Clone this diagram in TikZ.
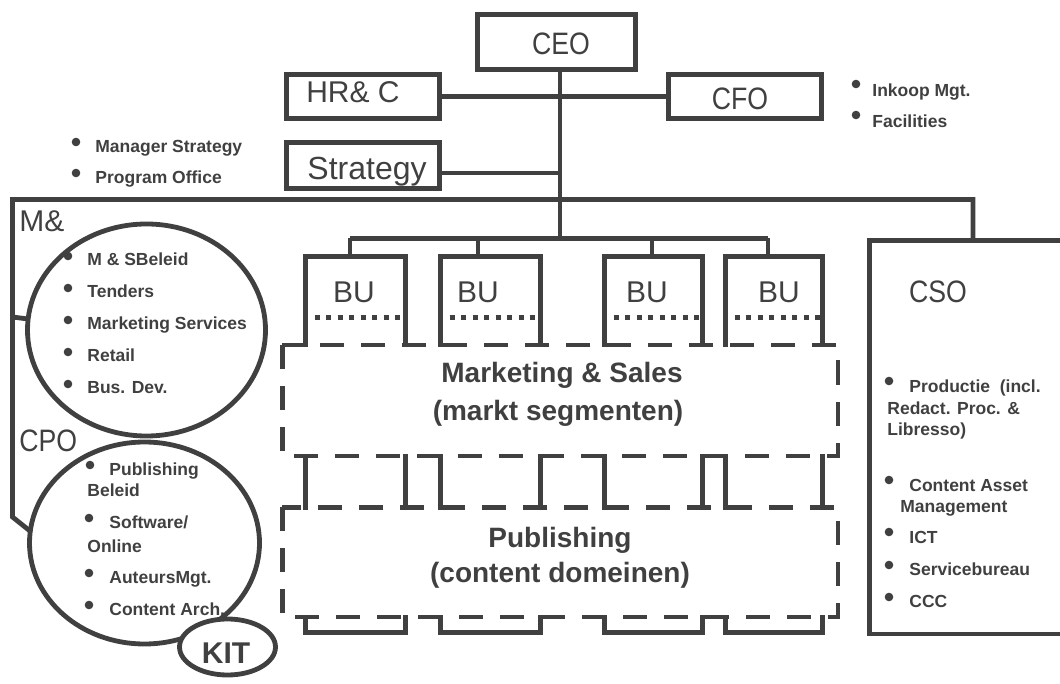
\documentclass[tikz,border=0pt]{standalone}
\usepackage{fontspec}
\setmainfont{Liberation Sans}
\newfontfamily\condfont[FakeStretch=0.86]{Liberation Sans}
\usetikzlibrary{shapes.geometric}
\definecolor{gc}{HTML}{404040}
\begin{document}
\begin{tikzpicture}[x=1pt,y=-1pt,line width=4.8pt,color=gc,
  box/.style={draw,rectangle,inner sep=0pt},
  colbox/.style={draw,rectangle,inner sep=0pt,minimum height=376pt},
  lbl/.style={font=\fontsize{30}{36}\selectfont,inner sep=0pt,anchor=base},
  clbl/.style={font=\condfont\fontsize{31}{36}\selectfont,inner sep=0pt,anchor=base},
  blbl/.style={font=\bfseries\fontsize{28}{34}\selectfont,inner sep=0pt,anchor=base},
  itm/.style={font=\bfseries\fontsize{17.5}{21}\selectfont,inner sep=0pt,anchor=base west},
  whitebox/.style={fill=white,inner sep=0pt},
  dashline/.style={dash pattern=on 24pt off 17pt},
  dotline/.style={line width=5pt,dash pattern=on 5pt off 6.5pt},
  ell/.style={draw,ellipse,inner sep=0pt}]
\useasboundingbox (0,0) rectangle (1060,684);

% top boxes
\node[box,minimum width=158.5pt,minimum height=55.5pt] (ceo) at (556.5,42) {};
\node[clbl] (ceot) at (561,55) {CEO};
\node[box,minimum width=153.5pt,minimum height=44.5pt] (hr) at (363,96.5) {};
\node[lbl] (hrt) at (353,103) {HR\& C};
\node[box,minimum width=153.5pt,minimum height=44.5pt] (cfo) at (745,96.5) {};
\node[clbl] (cfot) at (740,110) {CFO};
\node[box,minimum width=153.5pt,minimum height=46.5pt] (strat) at (363,165.5) {};
\node[lbl,font=\fontsize{32}{38}\selectfont] (stratt) at (367,180) {Strategy};

% spine
\coordinate (sp1) at (560,96.5);
\coordinate (sp2) at (560,173);
\coordinate (sp4) at (560,238.5);
\draw (ceo.south -| sp4) -- (sp4);
\draw (hr.east |- sp1) -- (cfo.west |- sp1);
\draw (strat.east |- sp2) -- (sp2);

% CSO box (open to the right)
\coordinate (csoTL) at (869.5,240.5);
\coordinate (csoTR) at (1060,240.5);
\coordinate (csoBL) at (869.5,634);
\coordinate (csoBR) at (1060,634);
\draw (csoTR) -- (csoTL) -- (csoBL) -- (csoBR);
\node[clbl] (csot) at (938,303) {CSO};

% long bracket line
\coordinate (L1) at (12.5,199.5);
\coordinate (R1) at (973,199.5);
\coordinate (L2) at (12.5,517);
\coordinate (L3) at (30,531);
\draw (R1 |- csoTL) -- (R1) -- (L1) -- (L2) -- (L3);
\coordinate (tk0) at (12.5,317);
\coordinate (tk1) at (28,319);
\draw (tk0) -- (tk1);

% BU columns
\node[colbox,minimum width=100pt] (col1) at (355.5,444.5) {};
\node[colbox,minimum width=100pt] (col2) at (490.5,444.5) {};
\node[colbox,minimum width=98pt] (col3) at (653.5,444.5) {};
\node[colbox,minimum width=97pt] (col4) at (774,444.5) {};
\foreach \i/\x in {1/354,2/478,3/647,4/779}{
  \node[lbl] (bu\i) at (\x,303) {BU};
  \coordinate (dl\i) at (col\i.west |- 0,318);
  \coordinate (dr\i) at (col\i.east |- 0,318);
  \draw[dotline] (dl\i) -- (dr\i);
}
\coordinate (d1) at (350,238.5);
\coordinate (d2) at (478,238.5);
\coordinate (d3) at (652,238.5);
\coordinate (d4) at (768,238.5);
\draw (d1) -- (d4);
\foreach \i in {1,2,3,4}{ \draw (d\i) -- (d\i |- col\i.north); }

% dashed sections
\node[whitebox,minimum width=551pt,minimum height=106pt] (ms) at (560,400.5) {};
\node[whitebox,minimum width=551pt,minimum height=105pt] (pub) at (560,562) {};
\draw[dashline] (ms.north west) -- (ms.south west) -- (ms.south east) -- (ms.north east) -- cycle;
\draw[dashline] (pub.north west) -- (pub.south west) -- (pub.south east) -- (pub.north east) -- cycle;
\node[blbl] (mst1) at (562,383) {Marketing \& Sales};
\node[blbl] (mst2) at (558,420) {(markt segmenten)};
\node[blbl] (pubt1) at (560,547) {Publishing};
\node[blbl] (pubt2) at (560,582) {(content domeinen)};

% ellipses
\node[ell,minimum width=238pt,minimum height=212pt] (mse) at (146.5,330) {};
\node[ell,minimum width=230pt,minimum height=202pt] (cpoe) at (144.5,543) {};
\node[ell,fill=white,minimum width=96pt,minimum height=56pt] (kit) at (227.5,647) {};
\node[lbl,font=\bfseries\fontsize{30}{36}\selectfont] (kitt) at (226,663) {KIT};
\node[lbl,anchor=base west] (mst) at (17,232) {M\&};
\node[clbl,anchor=base west] (cpot) at (17,451) {CPO};

% bullet lists
\foreach \n/\bx/\by/\tx/\ty/\t in {
  a/76/142/93/153/{Manager Strategy},
  b/76/173/93/184/{Program Office},
  c/856/84/870/97/{Inkoop Mgt.},
  d/856/115/870/128/{Facilities},
  e/68/256/85/266/{M \& SBeleid},
  f/68/288/85/298/{Tenders},
  g/68/320/85/330/{Marketing Services},
  h/68/352/85/362/{Retail},
  i/68/384/85/394/{Bus. Dev.},
  j/90/465/107/475/{Publishing},
  k/89/518/107/528/{Software/},
  l/89/573/107/583/{AuteursMgt.},
  m/89/605/107/615/{Content Arch.},
  n/889/381/907/392/{Productie\ \ (incl.},
  o/889/480/907/491/{Content Asset},
  p/889/532/907/543/{ICT},
  q/889/565/907/575/{Servicebureau},
  r/889/597/907/607/{CCC}}{
  \fill (\bx,\by) circle (4.3pt);
  \node[itm] (it\n) at (\tx,\ty) {\t};
}
\foreach \n/\tx/\ty/\t in {
  s/85/496/{Beleid},
  t/85/552/{Online},
  u/885/414/{Redact. Proc. \&},
  v/885/435/{Libresso)},
  w/898/512/{Management}}{
  \node[itm] (it\n) at (\tx,\ty) {\t};
}
\end{tikzpicture}
\end{document}
